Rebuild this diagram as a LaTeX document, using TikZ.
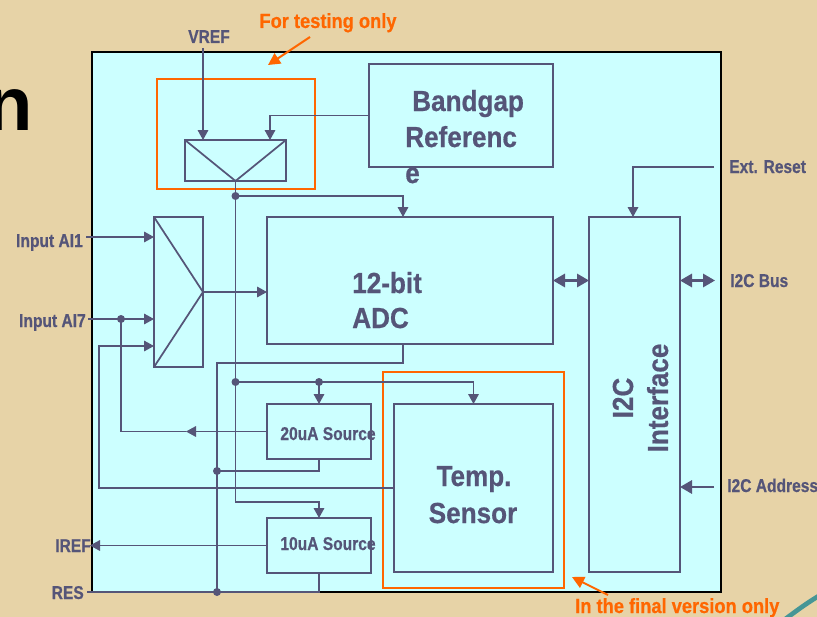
\documentclass[tikz,border=0pt]{standalone}
\usepackage{fontspec}
\setmainfont{Liberation Sans}
\newfontfamily\smf[FakeStretch=0.84,FakeBold=0.6]{Liberation Sans}
\newfontfamily\bgf[FakeStretch=0.9,FakeBold=0.6]{Liberation Sans}
\newfontfamily\orf[FakeStretch=0.89,FakeBold=0.6]{Liberation Sans}
\usetikzlibrary{arrows.meta}
\definecolor{lc}{RGB}{85,85,120}
\definecolor{cy}{RGB}{204,255,255}
\definecolor{bgc}{RGB}{231,211,167}
\definecolor{org}{RGB}{255,102,0}
\definecolor{tealsw}{RGB}{70,150,150}
\begin{document}
\begin{tikzpicture}[x=0.75pt,y=-0.75pt,
  box/.style={draw=lc,line width=1.3pt,fill=cy,inner sep=0pt,outer sep=0pt},
  obox/.style={draw=org,line width=1.4pt,inner sep=0pt,outer sep=0pt},
  wire/.style={draw=lc,line width=0.9pt},
  arr/.style={wire,-{Triangle[length=7.5pt,width=8pt]}},
  bigarr/.style={draw=lc,line width=1.6pt,-{Triangle[length=9pt,width=10pt]}},
  dbl/.style={draw=lc,line width=1.6pt,{Triangle[length=9pt,width=10pt]}-{Triangle[length=9pt,width=10pt]}},
  oarr/.style={draw=org,line width=1.5pt,-{Triangle[length=9pt,width=9pt]}},
  small/.style={text=lc,font=\smf\bfseries\fontsize{13.9pt}{16pt}\selectfont,inner sep=0pt},
  big/.style={text=lc,font=\bgf\bfseries\fontsize{21.75pt}{26.25pt}\selectfont,inner sep=0pt},
  otext/.style={text=org,font=\orf\bfseries\fontsize{15.4pt}{18pt}\selectfont,inner sep=0pt}
]
\clip (0,0) rectangle (817,617);
\fill[bgc] (0,0) rectangle (817,617);
\draw[tealsw,line width=3.5pt] (784,620) .. controls (795,612) and (805,604) .. (822,594);
\node[anchor=base east,inner sep=0pt,font=\fontsize{57pt}{60pt}\selectfont\bfseries] (nt) at (33,130) {n};

% main chip
\node[draw=black,line width=2pt,fill=cy,minimum width=471.75pt,minimum height=405pt,inner sep=0pt] (chip) at (406.5,322) {};

% orange frames
\node[obox,minimum width=118.5pt,minimum height=82.5pt] (testbox) at (236,134) {};
\node[obox,minimum width=135.75pt,minimum height=162pt] (finalbox) at (473.5,480) {};

% blocks
\node[box,minimum width=75.75pt,minimum height=30.75pt] (mux1) at (235.5,160.5) {};
\node[box,minimum width=138pt,minimum height=77.25pt] (bg) at (461,115.5) {};
\node[box,minimum width=36.75pt,minimum height=112.5pt] (mux2) at (178.5,292) {};
\node[box,minimum width=214.5pt,minimum height=95.25pt] (adc) at (410,280.5) {};
\node[box,minimum width=68.25pt,minimum height=266.25pt] (i2c) at (634.5,394.5) {};
\node[box,minimum width=78pt,minimum height=41.25pt] (src20) at (319,431.5) {};
\node[box,minimum width=78pt,minimum height=41.25pt] (src10) at (319,545.5) {};
\node[box,minimum width=119.25pt,minimum height=126pt] (temp) at (473.5,488) {};

\draw[lc,line width=1.3pt] (mux1.north west) -- (mux1.south) -- (mux1.north east);
\draw[lc,line width=1.3pt] (mux2.north west) -- (mux2.east) -- (mux2.south west);

% coordinates
\coordinate (vin) at (203,48);
\coordinate (bgin) at (270,140);
\coordinate (d1) at (235.5,196);
\coordinate (adcin) at (403,217);
\coordinate (sp) at (235.5,502);
\coordinate (d2) at (235.5,382);
\coordinate (d3) at (319,382);
\coordinate (ai1) at (86,237);
\coordinate (ai7) at (88,319);
\coordinate (d4) at (121,319);
\coordinate (in3) at (99,346);
\coordinate (amid) at (186,431.5);
\coordinate (adco) at (403,344);
\coordinate (r1) at (217,363);
\coordinate (d5) at (217,471);
\coordinate (dres) at (217,592);
\coordinate (resl) at (87,592);
\coordinate (iref) at (90,545.5);
\coordinate (busr) at (715,280.5);
\coordinate (ext) at (714,167);
\coordinate (i2cin) at (633,217);
\coordinate (addr) at (714,487);

% wires
\draw[arr] (vin) -- (vin |- mux1.north);
\draw[arr] (bg.west) -| (bgin);
\draw[arr] (mux1.south) -- (sp) -| (src10.north);
\draw[arr] (d1) -| (adcin);
\draw[wire] (d2) -- (d3);
\draw[arr] (d3) -- (src20.north);
\draw[arr] (d3) -| (temp.north);
\draw[arr] (mux2.east) -- (mux2.east -| adc.west);
\draw[arr] (ai1) -- (ai1 -| mux2.west);
\draw[arr] (ai7) -- (ai7 -| mux2.west);
\draw[arr] (temp.west) -| (in3) -- (in3 -| mux2.west);
\draw[arr] (src20.west) -- (amid);
\draw[wire] (amid) -| (d4);
\draw[wire] (adco) |- (r1) -- (dres);
\draw[wire] (src20.south) |- (d5);
\draw[wire] (src10.south) |- (resl);
\draw[arr] (src10.west) -- (iref);
\draw[dbl] (adc.east) -- (adc.east -| i2c.west);
\draw[dbl] (busr -| i2c.east) -- (busr);
\draw[arr] (ext) -| (i2cin);
\draw[bigarr] (addr) -- (addr -| i2c.east);

\foreach \p in {d1,d2,d3,d4,d5,dres} \fill[lc] (\p) circle[radius=4];

% labels
\node[small,anchor=base] (vreft) at (209,43) {VREF};
\node[small,anchor=base east] (ai1t) at (83,247) {Input AI1};
\node[small,anchor=base east] (ai7t) at (86,327) {Input AI7};
\node[small,anchor=base east] (ireft) at (91,552) {IREF};
\node[small,anchor=base east] (rest) at (84,599) {RES};
\node[small,anchor=base west] (extt) at (729,173) {Ext. Reset};
\node[small,anchor=base west] (bust) at (730,287) {I2C Bus};
\node[small,anchor=base west] (addrt) at (727,492) {I2C Address};
\node[small,anchor=base] (s20t) at (328,440) {20uA Source};
\node[small,anchor=base] (s10t) at (328,550) {10uA Source};

\node[big,anchor=base west] (bgt1) at (412,111) {Bandgap};
\node[big,anchor=base west] (bgt2) at (405,147) {Referenc};
\node[big,anchor=base west] (bgt3) at (405,183) {e};
\node[big,anchor=base west] (adct1) at (352,293) {12-bit};
\node[big,anchor=base west] (adct2) at (352,328) {ADC};
\node[big,anchor=base] (tt1) at (474,486) {Temp.};
\node[big,anchor=base] (tt2) at (473,523) {Sensor};
\node[big,rotate=90,align=center] (i2ct) at (640.5,398) {I2C\\Interface};

% orange notes
\node[otext,anchor=base] (fto) at (328,28) {For testing only};
\node[otext,anchor=base west] (fvo) at (575,613) {In the final version only};
\coordinate (o1a) at (310,37);
\coordinate (o1b) at (268,65);
\coordinate (o2a) at (608,595);
\coordinate (o2b) at (572,577);
\draw[oarr] (o1a) -- (o1b);
\draw[oarr] (o2a) -- (o2b);
\end{tikzpicture}
\end{document}
